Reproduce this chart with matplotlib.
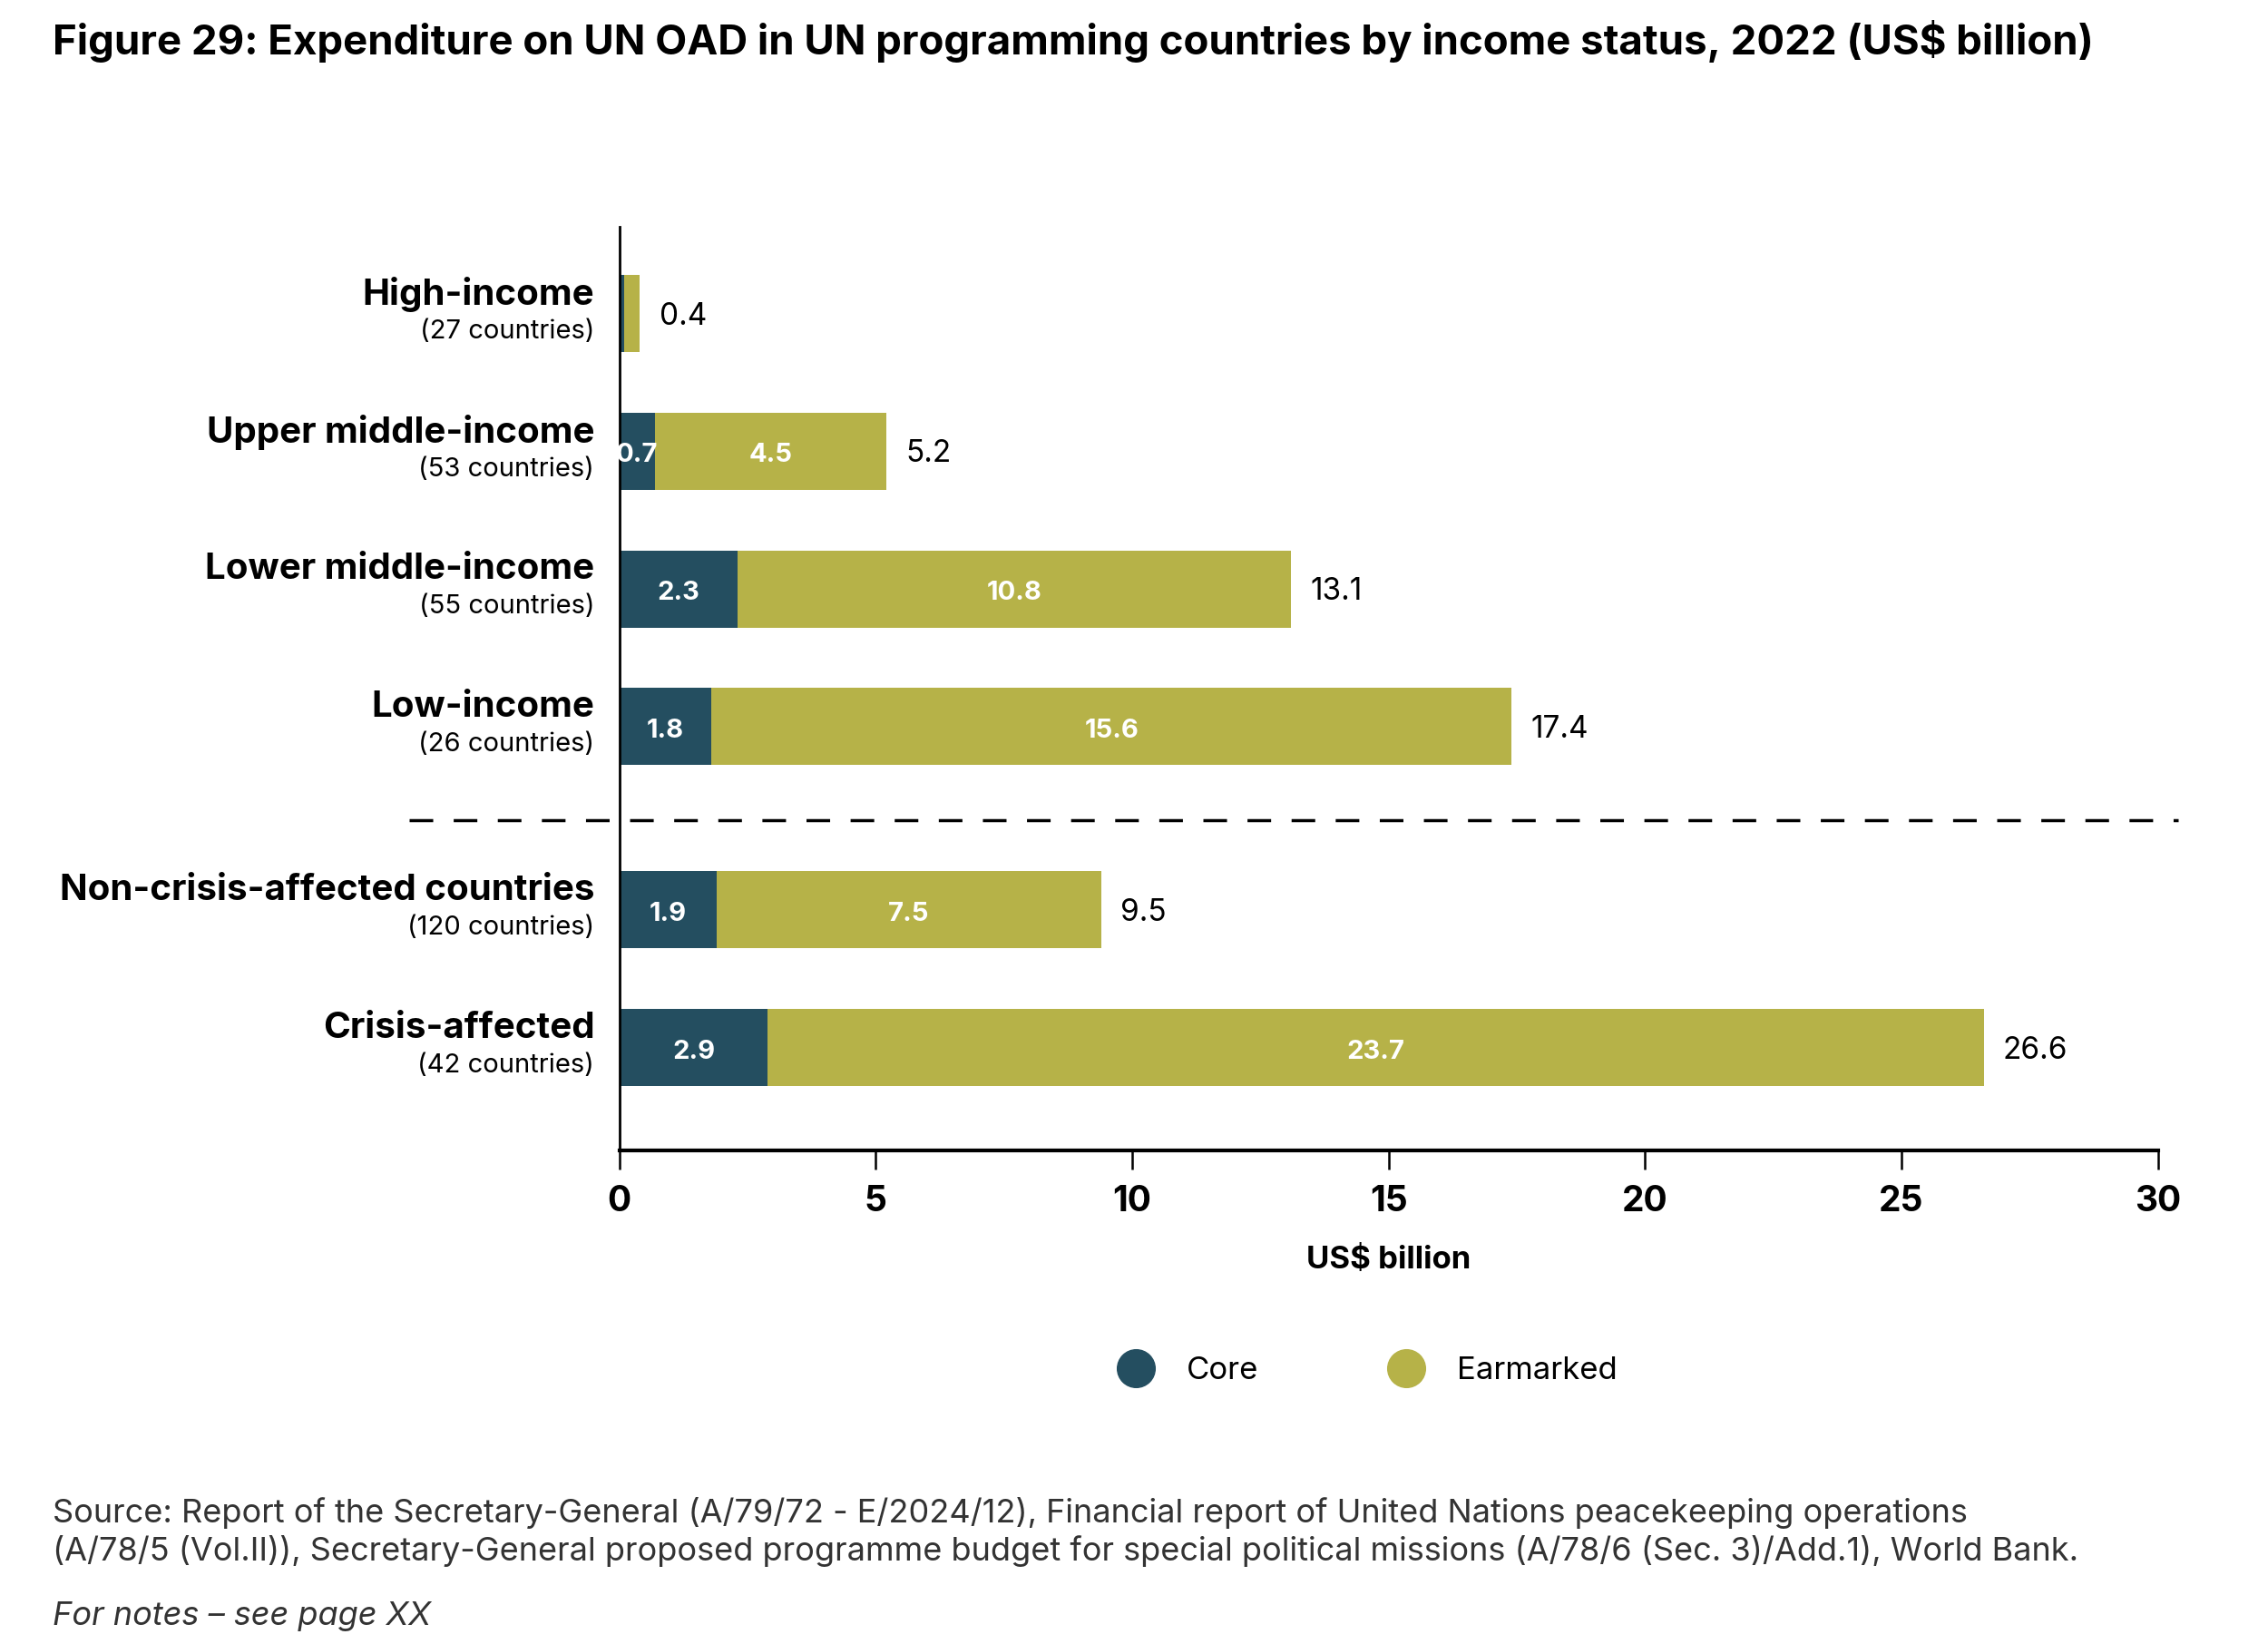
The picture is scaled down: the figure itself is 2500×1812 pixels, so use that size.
import numpy as np
import matplotlib.pyplot as plt
from matplotlib.lines import Line2D

plt.rcParams['font.family'] = ['Inter', 'DejaVu Sans']

# Data (US$ billion)
groups = ['High-income', 'Upper middle-income', 'Lower middle-income', 'Low-income',
          'Non-crisis-affected countries', 'Crisis-affected']
n_countries = ['(27 countries)', '(53 countries)', '(55 countries)', '(26 countries)',
               '(120 countries)', '(42 countries)']
core = [0.1, 0.7, 2.3, 1.8, 1.9, 2.9]
earmarked = [0.3, 4.5, 10.8, 15.6, 7.5, 23.7]
totals = [0.4, 5.2, 13.1, 17.4, 9.5, 26.6]
show_inner = [False, True, True, True, True, True]

core_col = '#244e60'
ear_col = '#b6b248'

ypos = [0, 1, 2, 3, 4.33, 5.33]
bar_h = 0.56

fig = plt.figure(figsize=(25, 18.12), dpi=100)
ax = fig.add_axes([0.273, 0.300, 0.6785, 0.562])

ax.barh(ypos, core, height=bar_h, color=core_col)
ax.barh(ypos, earmarked, left=core, height=bar_h, color=ear_col)

for y, c, e, t, s in zip(ypos, core, earmarked, totals, show_inner):
    if s:
        ax.text(c / 2, y + 0.03, f'{c:.1f}', color='white', fontsize=21,
                fontweight='bold', ha='center', va='center')
        ax.text(c + e / 2, y + 0.03, f'{e:.1f}', color='white', fontsize=21,
                fontweight='bold', ha='center', va='center')
    ax.text(c + e + 0.38, y + 0.02, f'{t:.1f}', color='black', fontsize=24,
            ha='left', va='center')

# category labels with country counts
for y, g, n in zip(ypos, groups, n_countries):
    ax.text(-0.48, y - 0.14, g, fontsize=29, fontweight='bold',
            ha='right', va='center')
    ax.text(-0.48, y + 0.13, n, fontsize=21, ha='right', va='center')

# dashed separator between income groups and crisis groups
ax.plot([-4.1, 30.4], [3.68, 3.68], color='black', lw=2.5,
        dashes=(7.5, 6.5), clip_on=False)

ax.set_xlim(0, 30)
ax.set_ylim(6.08, -0.63)
ax.set_yticks([])
ax.set_xticks(np.arange(0, 31, 5))
ax.tick_params(axis='x', length=15, width=1.8, pad=12, labelsize=28)
for lab in ax.get_xticklabels():
    lab.set_fontweight('bold')
ax.set_xlabel('US$ billion', fontsize=25, fontweight='bold', labelpad=22)

ax.spines['top'].set_visible(False)
ax.spines['right'].set_visible(False)
ax.spines['left'].set_linewidth(2)
ax.spines['bottom'].set_linewidth(3)

handles = [Line2D([], [], marker='o', ls='none', ms=30, color=core_col),
           Line2D([], [], marker='o', ls='none', ms=30, color=ear_col)]
fig.legend(handles, ['Core', 'Earmarked'], loc='center', bbox_to_anchor=(0.6, 0.166),
           ncol=2, frameon=False, fontsize=25, columnspacing=3.7, handletextpad=0.6)

fig.text(0.023, 0.975, 'Figure 29: Expenditure on UN OAD in UN programming countries by income status, 2022 (US$ billion)',
         fontsize=32.8, fontweight='bold', ha='left', va='center')
fig.text(0.023, 0.068,
         'Source: Report of the Secretary-General (A/79/72 - E/2024/12), Financial report of United Nations peacekeeping operations\n'
         '(A/78/5 (Vol.II)), Secretary-General proposed programme budget for special political missions (A/78/6 (Sec. 3)/Add.1), World Bank.',
         fontsize=26, color='#333333', ha='left', va='center', linespacing=1.25)
fig.text(0.023, 0.017, 'For notes \u2013 see page XX', fontsize=26, style='italic',
         color='#333333', ha='left', va='center')

fig.savefig('out.png', dpi=100)
